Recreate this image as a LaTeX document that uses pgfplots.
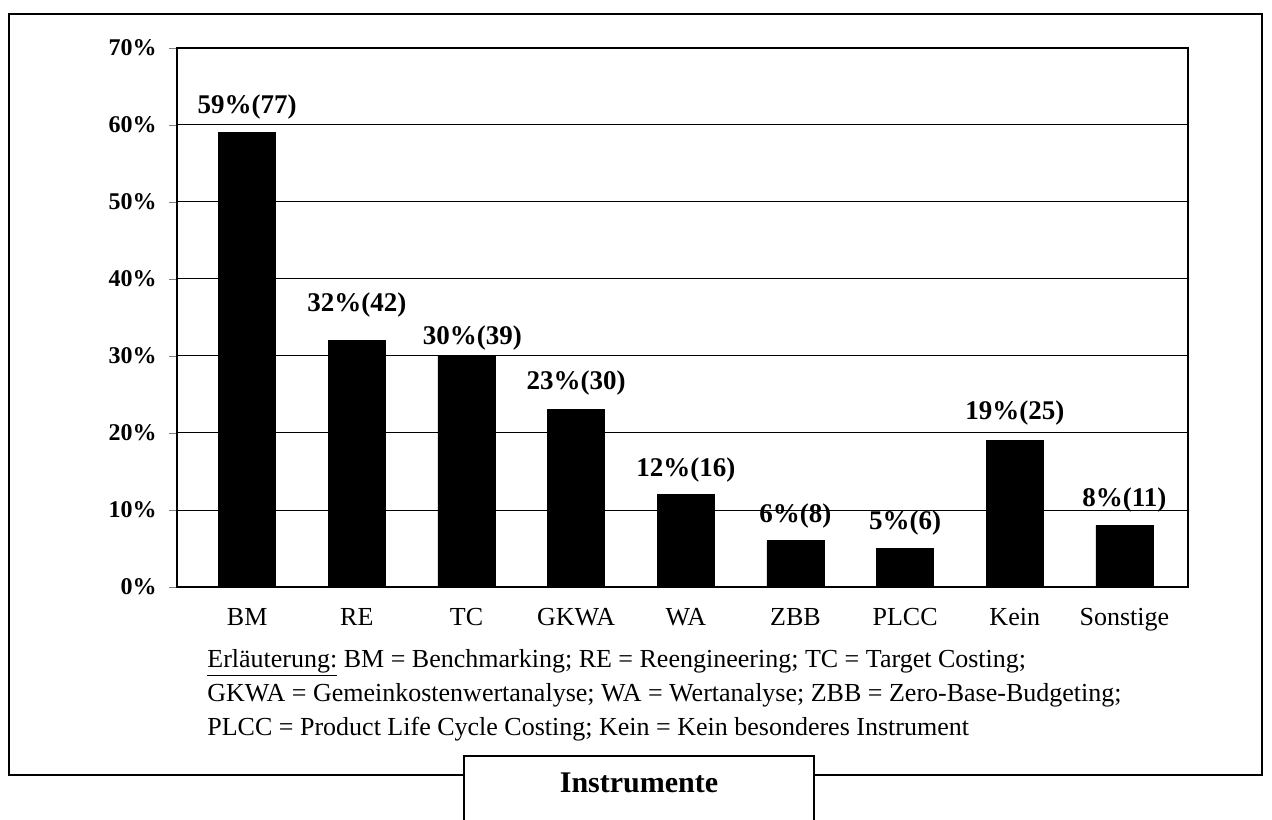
\documentclass[border=0pt]{standalone}
\usepackage{pgfplots}
\pgfplotsset{compat=1.18}
\usepackage{fontspec}
\setmainfont{Liberation Serif}
\begin{document}
\begin{tikzpicture}[x=1pt,y=1pt]
\path[use as bounding box] (0,0) rectangle (636,409.5);
\draw[line width=0.9pt] (4.5,22) rectangle (631,402.5);
\begin{axis}[
  at={(88.5pt,116pt)}, anchor=south west,
  scale only axis, width=505.5pt, height=269.5pt,
  xmin=-0.64, xmax=8.58, ymin=0, ymax=70,
  axis line style={line width=0.6pt},
  ytick={0,10,20,30,40,50,60,70},
  yticklabels={\textbf{0\%},\textbf{10\%},\textbf{20\%},\textbf{30\%},\textbf{40\%},\textbf{50\%},\textbf{60\%},\textbf{70\%}},
  yticklabel style={font=\fontsize{12}{14}\selectfont, anchor=east, inner sep=0pt, xshift=-6pt},
  ytick pos=left, tick align=outside, major tick length=4pt,
  ymajorgrids, grid style={black, line width=0.5pt},
  xtick={0,1,2,3,4,5,6,7,8},
  xticklabels={BM,RE,TC,GKWA,WA,ZBB,PLCC,Kein,Sonstige},
  xticklabel style={font=\fontsize{13}{15}\selectfont, anchor=base, inner sep=0pt, yshift=-15pt},
  x tick style={draw=none},
  extra x ticks={-0.64,8.58}, extra x tick labels={},
  extra x tick style={tick style={draw=black, line width=0.6pt}, major tick length=4pt, tick align=outside},
  clip=false,
]
\addplot[ybar, bar width=28.5pt, fill=black, draw=black] coordinates {
 (0,59) (1,32) (2,30) (3,23) (4,12) (5,6) (6,5) (7,19) (8,8)};
\begin{scope}[every node/.style={font=\fontsize{13.5}{15}\selectfont\bfseries, inner sep=0pt}]
\node[yshift=13pt] at (axis cs:0,59) {59\%(77)};
\node[yshift=18pt] at (axis cs:1,32) {32\%(42)};
\node[yshift=9pt, xshift=3pt] at (axis cs:2,30) {30\%(39)};
\node[yshift=13.5pt] at (axis cs:3,23) {23\%(30)};
\node[yshift=12.5pt] at (axis cs:4,12) {12\%(16)};
\node[yshift=12.5pt] at (axis cs:5,6) {6\%(8)};
\node[yshift=12.5pt] at (axis cs:6,5) {5\%(6)};
\node[yshift=14pt] at (axis cs:7,19) {19\%(25)};
\node[yshift=12.5pt] at (axis cs:8,8) {8\%(11)};
\end{scope}
\end{axis}
\node[anchor=base west, inner sep=0pt, font=\fontsize{13}{15}\selectfont] at (103.5,76) {\underline{Erläuterung:} BM = Benchmarking; RE = Reengineering; TC = Target Costing;};
\node[anchor=base west, inner sep=0pt, font=\fontsize{13}{15}\selectfont] at (103.5,59) {GKWA = Gemeinkostenwertanalyse; WA = Wertanalyse; ZBB = Zero-Base-Budgeting;};
\node[anchor=base west, inner sep=0pt, font=\fontsize{13}{15}\selectfont] at (103.5,42) {PLCC = Product Life Cycle Costing; Kein = Kein besonderes Instrument};
\draw[line width=0.9pt, fill=white] (232,-5) -- (232,31.5) -- (407,31.5) -- (407,-5);
\node[font=\fontsize{15}{17}\selectfont\bfseries] at (319.5,18) {Instrumente};
\end{tikzpicture}
\end{document}
